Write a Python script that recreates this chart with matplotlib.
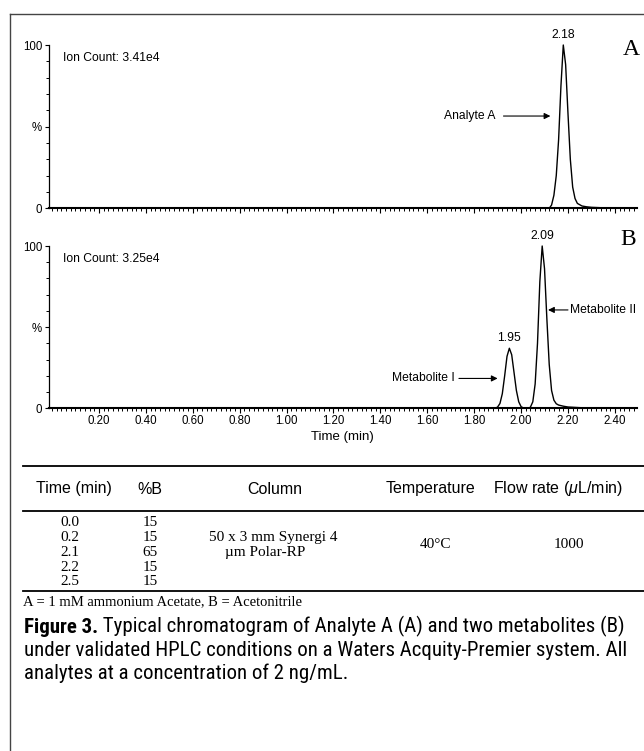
import matplotlib
matplotlib.use("Agg")
import matplotlib.pyplot as plt
from matplotlib.lines import Line2D
from matplotlib.ticker import MultipleLocator, FixedLocator, FixedFormatter
from matplotlib import font_manager

# ---------------- data ----------------
trace_a_time = [-0.015, 2.12, 2.13, 2.14, 2.15, 2.16, 2.17, 2.18, 2.19, 2.20, 2.21,
                2.22, 2.23, 2.24, 2.26, 2.28, 2.30, 2.35, 2.40, 2.493]
trace_a_int = [0.0, 0.0, 2, 8, 20, 42, 75, 100, 88, 58, 30,
               13, 6, 3, 1.4, 0.9, 0.6, 0.3, 0.1, 0.0]

trace_b_time = [-0.015, 1.89, 1.90, 1.91, 1.92, 1.93, 1.94, 1.95, 1.96, 1.97, 1.98,
                1.99, 2.00, 2.01, 2.035, 2.04, 2.05, 2.06, 2.07, 2.08, 2.09, 2.10,
                2.11, 2.12, 2.13, 2.14, 2.15, 2.16, 2.18, 2.20, 2.25, 2.30, 2.35, 2.493]
trace_b_int = [0.0, 0.0, 0.8, 3, 9, 20, 32, 37, 33, 22, 11,
               4, 1, 0.2, 0.2, 0.8, 4, 15, 40, 78, 100, 86,
               55, 27, 11, 5, 2.8, 2, 1.3, 0.8, 0.4, 0.1, 0.0, 0.0]

ion_count_a = "Ion Count: 3.41e4"
ion_count_b = "Ion Count: 3.25e4"
peak_labels_a = [(2.18, 100, "2.18")]
peak_labels_b = [(1.95, 37, "1.95"), (2.09, 100, "2.09")]

x_ticks = [0.20, 0.40, 0.60, 0.80, 1.00, 1.20, 1.40, 1.60, 1.80, 2.00, 2.20, 2.40]
x_tick_labels = ["0.20", "0.40", "0.60", "0.80", "1.00", "1.20", "1.40", "1.60",
                 "1.80", "2.00", "2.20", "2.40"]
y_ticks = [0, 50, 100]
y_tick_labels = ["0", "%", "100"]

table_headers = ["Time (min)", "%B", "Column", "Temperature", "Flow rate ($\\mu$L/min)"]
grad_time = ["0.0", "0.2", "2.1", "2.2", "2.5"]
grad_b = ["15", "15", "65", "15", "15"]
column_text = ["50 x 3 mm Synergi 4", "\u00b5m Polar-RP"]
temperature = "40\u00b0C"
flow_rate = "1000"
footnote = "A = 1 mM ammonium Acetate, B = Acetonitrile"
caption_bold = "Figure 3."
caption_lines = [" Typical chromatogram of Analyte A (A) and two metabolites (B)",
                 "under validated HPLC conditions on a Waters Acquity-Premier system. All",
                 "analytes at a concentration of 2 ng/mL."]

# ---------------- fonts ----------------
avail = {f.name for f in font_manager.fontManager.ttflist}
SANS = "Liberation Sans" if "Liberation Sans" in avail else "DejaVu Sans"
SERIF = "Liberation Serif" if "Liberation Serif" in avail else "DejaVu Serif"
NARROW = SANS
for cand in ["Liberation Sans Narrow", "Roboto Condensed", "Open Sans Condensed", "Roboto"]:
    if cand in avail:
        NARROW = cand
        break

plt.rcParams["font.family"] = [SANS, "DejaVu Sans"]
plt.rcParams["mathtext.fontset"] = "custom"
plt.rcParams["mathtext.it"] = SANS + ":italic"
plt.rcParams["mathtext.rm"] = SANS

W, H = 644, 751
fig = plt.figure(figsize=(W / 100, H / 100), dpi=100)

def fx(px):
    return px / W

def fy(py):
    return 1 - py / H

# frame
fig.add_artist(Line2D([fx(10), fx(10)], [fy(14), fy(751)], color="#444444", lw=1.0))
fig.add_artist(Line2D([fx(10), fx(644)], [fy(14), fy(14)], color="#444444", lw=1.0))

XMIN, XMAX = -0.015, 2.493
left, right = fx(48.5), fx(636.7)
LFS = 8.7

def setup_axis(ax, show_labels):
    ax.set_xlim(XMIN, XMAX)
    ax.set_ylim(0, 100)
    for s in ["top", "right"]:
        ax.spines[s].set_visible(False)
    ax.spines["bottom"].set_linewidth(1.5)
    ax.spines["left"].set_linewidth(0.9)
    ax.xaxis.set_major_locator(FixedLocator(x_ticks))
    ax.xaxis.set_minor_locator(MultipleLocator(0.02))
    if show_labels:
        ax.xaxis.set_major_formatter(FixedFormatter(x_tick_labels))
    else:
        ax.set_xticklabels([])
    ax.yaxis.set_major_locator(FixedLocator(y_ticks))
    ax.yaxis.set_major_formatter(FixedFormatter(y_tick_labels))
    ax.yaxis.set_minor_locator(MultipleLocator(10))
    ax.tick_params(axis="x", which="major", length=3.5, width=0.8, labelsize=8.3, pad=1.5)
    ax.tick_params(axis="x", which="minor", length=1.8, width=0.7)
    ax.tick_params(axis="y", which="major", length=3, width=0.8, labelsize=8.3, pad=1.5)
    ax.tick_params(axis="y", which="minor", length=2, width=0.7)
    ax.patch.set_alpha(0)

ARROW = dict(arrowstyle="-|>", lw=0.8, color="black", mutation_scale=9,
             shrinkA=0, shrinkB=0)

# ---- panel A ----
axA = fig.add_axes([left, fy(208.3), right - left, fy(45) - fy(208.3)])
setup_axis(axA, False)
axA.plot(trace_a_time, trace_a_int, color="black", lw=1.0, clip_on=False)
axA.text(0.048, 92, ion_count_a, fontsize=LFS, ha="left", va="center")
for t, yv, lab in peak_labels_a:
    axA.annotate(lab, (t, yv), xytext=(0, 3), textcoords="offset points",
                 ha="center", va="bottom", fontsize=8.7)
axA.text(2.47, 97, "A", family=SERIF, fontsize=17, ha="center", va="center")
axA.annotate("", xy=(2.125, 56.5), xytext=(1.925, 56.5), arrowprops=ARROW)
axA.text(1.89, 56.5, "Analyte A", fontsize=LFS, ha="right", va="center")

# ---- panel B ----
axB = fig.add_axes([left, fy(408.3), right - left, fy(246) - fy(408.3)])
setup_axis(axB, True)
axB.plot(trace_b_time, trace_b_int, color="black", lw=1.0, clip_on=False)
axB.text(0.048, 92, ion_count_b, fontsize=LFS, ha="left", va="center")
for t, yv, lab in peak_labels_b:
    axB.annotate(lab, (t, yv), xytext=(0, 3), textcoords="offset points",
                 ha="center", va="bottom", fontsize=8.7)
axB.text(2.455, 104, "B", family=SERIF, fontsize=17, ha="center", va="center")
axB.annotate("", xy=(1.90, 18.4), xytext=(1.735, 18.4), arrowprops=ARROW)
axB.text(1.718, 18.4, "Metabolite I", fontsize=LFS, ha="right", va="center")
axB.annotate("", xy=(2.115, 60.6), xytext=(2.20, 60.6), arrowprops=ARROW)
axB.text(2.21, 60.6, "Metabolite II", fontsize=LFS, ha="left", va="center")
axB.set_xlabel("Time (min)", fontsize=9.5, labelpad=3)

# ---- table ----
rule_x = [fx(22.6), fx(644)]
for py in [466, 511, 591]:
    fig.add_artist(Line2D(rule_x, [fy(py), fy(py)], color="black", lw=1.3))

header_x = [73.5, 150, 275, 431, 557.5]
for hx, h in zip(header_x, table_headers):
    fig.text(fx(hx), fy(489), h, fontsize=11.5, ha="center", va="center", family=SANS)

row_y = [523, 537.7, 552.4, 567.1, 581.8]
for ry, t, b in zip(row_y, grad_time, grad_b):
    fig.text(fx(70), fy(ry), t, fontsize=11, ha="center", va="center", family=SERIF)
    fig.text(fx(150), fy(ry), b, fontsize=11, ha="center", va="center", family=SERIF)
fig.text(fx(273), fy(537.7), column_text[0], fontsize=11, ha="center", va="center", family=SERIF)
fig.text(fx(265), fy(552.4), column_text[1], fontsize=11, ha="center", va="center", family=SERIF)
fig.text(fx(435), fy(545), temperature, fontsize=11, ha="center", va="center", family=SERIF)
fig.text(fx(569), fy(545), flow_rate, fontsize=11, ha="center", va="center", family=SERIF)

fig.text(fx(23), fy(602), footnote, fontsize=10.5, ha="left", va="center", family=SERIF)

# ---- caption ----
cap_fs = 15
t1 = fig.text(fx(24), fy(633), caption_bold, fontsize=cap_fs, fontweight="bold",
              ha="left", va="baseline", family=NARROW)
axA.annotate(caption_lines[0], xy=(1, 0), xycoords=t1, ha="left", va="bottom",
             fontsize=cap_fs, family=NARROW, annotation_clip=False)
fig.text(fx(24), fy(656), caption_lines[1], fontsize=cap_fs, ha="left", va="baseline",
         family=NARROW)
fig.text(fx(24), fy(679), caption_lines[2], fontsize=cap_fs, ha="left", va="baseline",
         family=NARROW)

fig.savefig("out.png", dpi=100)
